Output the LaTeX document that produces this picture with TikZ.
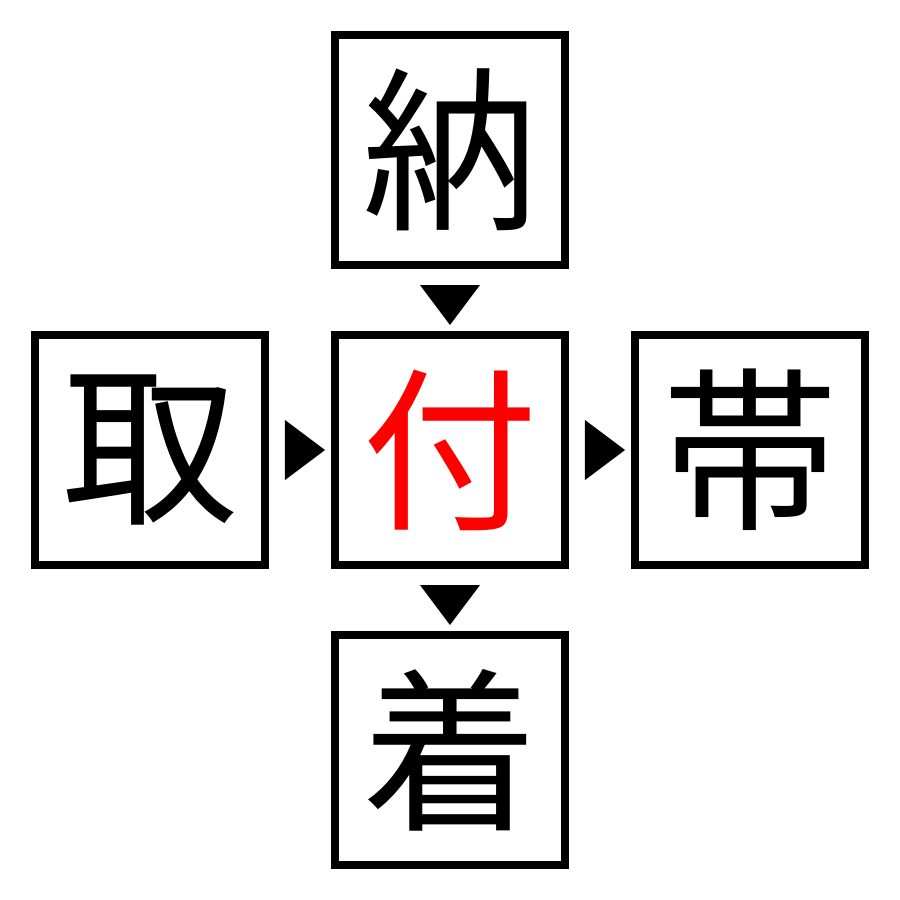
\documentclass[tikz,border=0pt]{standalone}
\usepackage{fontspec}
\usepackage{tikz}
\usepackage{xcolor}
\usetikzlibrary{shapes.geometric}
\newfontfamily\cjk{Noto Sans CJK JP}

\begin{document}
\begin{tikzpicture}[node distance=3cm,
		kanji/.style={draw, line width=0.08cm, minimum size=2.3cm, inner sep=0pt, font=\cjk\fontsize{50}{50}\selectfont},
		tri/.style={fill=black, isosceles triangle, isosceles triangle stretches, minimum width=0.6cm, minimum height=0.4cm, inner sep=0pt}]
		\useasboundingbox (-4.5,-4.5) rectangle (4.5,4.5);
		\node[kanji, text=red] (tsuke) {付};
		\node[kanji, above of=tsuke] (osame) {納};
		\node[kanji, left of=tsuke] (tori) {取};
		\node[kanji, right of=tsuke] (obi) {帯};
		\node[kanji, below of=tsuke] (ki) {着};
		
		\path (osame) -- (tsuke) node[midway, tri, shape border rotate=-90] (t1) {};
		\path (tori) -- (tsuke) node[midway, tri] (t2) {};
		\path (tsuke) -- (obi) node[midway, tri] (t3) {};
		\path (tsuke) -- (ki) node[midway, tri, shape border rotate=-90] (t4) {};
	\end{tikzpicture}
\end{document}
